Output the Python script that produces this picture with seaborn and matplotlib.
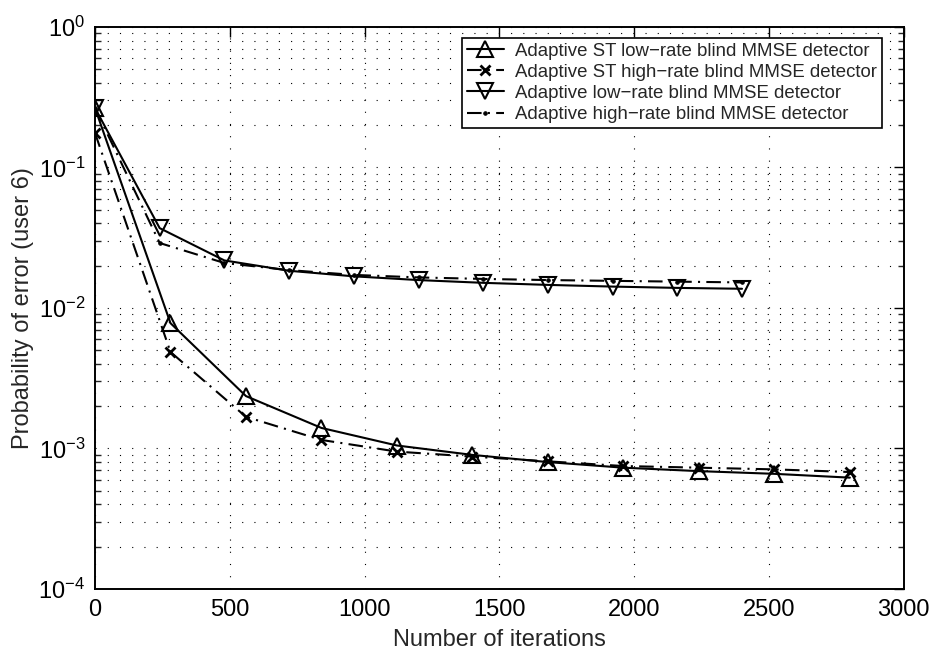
import numpy as np
import pandas as pd
import matplotlib
matplotlib.use("Agg")
import matplotlib.pyplot as plt
import seaborn as sns
from matplotlib.ticker import LogLocator, FixedLocator, NullFormatter

# Iteration counts for each curve
iters_st = [0, 280, 560, 840, 1120, 1400, 1680, 1960, 2240, 2520, 2800]
iters_conv = [0, 240, 480, 720, 960, 1200, 1440, 1680, 1920, 2160, 2400]

# Probability of error (user 6)
pe_st_low = [0.265, 0.0078, 0.00236, 0.0014, 0.00105, 0.0009, 0.0008,
             0.00073, 0.00069, 0.00066, 0.00062]
pe_st_high = [0.176, 0.00486, 0.00168, 0.00115, 0.00095, 0.000875, 0.00081,
              0.00075, 0.00073, 0.00071, 0.00068]
pe_low = [0.265, 0.037, 0.0218, 0.0184, 0.0168, 0.0158, 0.0151, 0.0146,
          0.0142, 0.0139, 0.0137]
pe_high = [0.265, 0.029, 0.0209, 0.0186, 0.0172, 0.0165, 0.0161, 0.0158,
           0.0156, 0.0154, 0.0152]

labels = ["Adaptive ST low\u2212rate blind MMSE detector",
          "Adaptive ST high\u2212rate blind MMSE detector",
          "Adaptive low\u2212rate blind MMSE detector",
          "Adaptive high\u2212rate blind MMSE detector"]

x_ticks = [0, 500, 1000, 1500, 2000, 2500, 3000]

sns.set_theme(style="white")
plt.rcParams["font.family"] = ["Liberation Sans", "DejaVu Sans"]
plt.rcParams["mathtext.default"] = "regular"

fig = plt.figure(figsize=(9.35, 6.55), dpi=100)
ax = fig.add_axes([0.1016, 0.1008, 0.865, 0.858])

dashdot = (0, (7, 3, 1, 3))
common = dict(color="black", linewidth=1.5, sort=False, estimator=None, ax=ax)

sns.lineplot(x=iters_st, y=pe_st_low, linestyle="-", marker="^", markersize=12,
             markerfacecolor="none", markeredgecolor="black", markeredgewidth=1.5,
             label=labels[0], **common)
sns.lineplot(x=iters_st, y=pe_st_high, linestyle=dashdot, marker="x", markersize=7,
             markeredgecolor="black", markeredgewidth=2.0,
             label=labels[1], **common)
sns.lineplot(x=iters_conv, y=pe_low, linestyle="-", marker="v", markersize=12,
             markerfacecolor="none", markeredgecolor="black", markeredgewidth=1.5,
             label=labels[2], **common)
sns.lineplot(x=iters_conv, y=pe_high, linestyle=dashdot, marker=".", markersize=5,
             markeredgecolor="black", markerfacecolor="black",
             label=labels[3], **common)

ax.set_yscale("log")
ax.set_xlim(0, 3000)
ax.set_ylim(1e-4, 1)
ax.xaxis.set_major_locator(FixedLocator(x_ticks))
ax.yaxis.set_major_locator(LogLocator(base=10, numticks=10))
ax.yaxis.set_minor_locator(LogLocator(base=10, subs=np.arange(2, 10), numticks=20))
ax.yaxis.set_minor_formatter(NullFormatter())

# Dotted grid on major x, major and minor y
grid_style = dict(color="black", linewidth=0.8, linestyle=(0, (1, 10)))
ax.grid(True, which="major", axis="both", **grid_style)
ax.grid(True, which="minor", axis="y", **grid_style)

ax.tick_params(axis="both", which="major", direction="in", length=7, width=1.0,
               top=True, right=True, labelsize=17, colors="black", pad=7)
ax.tick_params(axis="y", which="minor", direction="in", length=4, width=1.0,
               left=True, right=True)
for s in ax.spines.values():
    s.set_color("black")
    s.set_linewidth(1.4)

ax.set_xlabel("Number of iterations", fontsize=17, labelpad=6)
ax.set_ylabel("Probability of error (user 6)", fontsize=17, labelpad=3)

leg = ax.legend(loc="upper right", bbox_to_anchor=(0.9728, 0.9804), fontsize=13.4,
                frameon=True, fancybox=False, framealpha=1, edgecolor="black",
                handlelength=2.0, handletextpad=0.6, labelspacing=0.22,
                borderpad=0.25, borderaxespad=0.0)
leg.get_frame().set_linewidth(1.2)

fig.savefig("out.png", dpi=100, facecolor="white")
